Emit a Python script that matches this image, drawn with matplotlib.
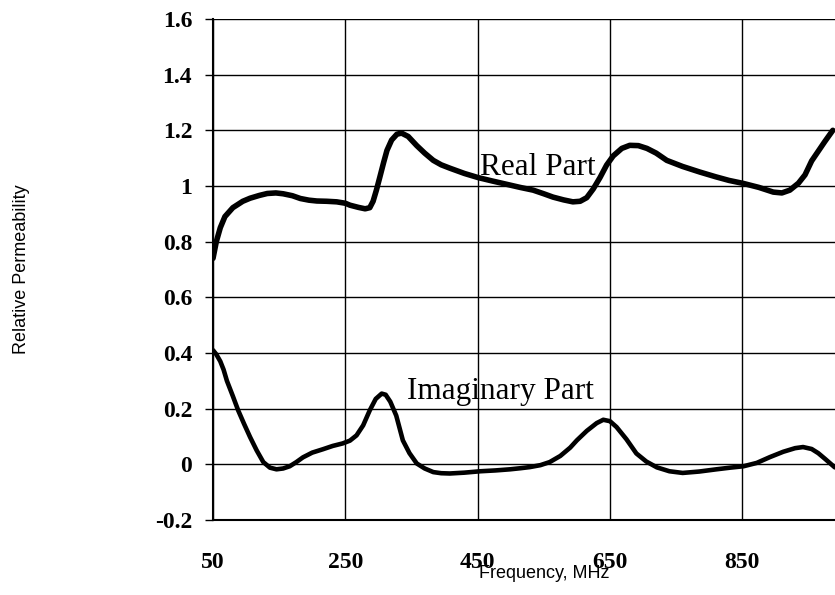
import matplotlib
matplotlib.use("Agg")
import matplotlib.pyplot as plt
from matplotlib.ticker import FuncFormatter

plt.rcParams['axes.unicode_minus'] = False

# frequency sweep (MHz) and permeability readings
freq_real = [50, 55, 61, 68, 80, 95, 106, 120, 132, 145, 156, 170, 182, 195, 207,
             222, 237, 250, 257, 270, 280, 287, 292, 297, 302, 308, 313, 320, 328,
             335, 345, 358, 370, 383, 395, 408, 430, 451, 472, 494, 514, 534, 550,
             564, 580, 594, 605, 615, 625, 635, 645, 655, 668, 680, 693, 706, 720,
             736, 760, 786, 810, 830, 852, 875, 897, 910, 922, 935, 945, 955, 965,
             975, 987]
mu_real = [0.74, 0.80, 0.85, 0.89, 0.922, 0.945, 0.956, 0.966, 0.973, 0.975, 0.972,
           0.965, 0.955, 0.949, 0.946, 0.945, 0.943, 0.938, 0.931, 0.923, 0.918,
           0.922, 0.945, 0.985, 1.03, 1.085, 1.128, 1.165, 1.186, 1.19, 1.178,
           1.145, 1.118, 1.092, 1.076, 1.064, 1.045, 1.03, 1.018, 1.006, 0.995,
           0.985, 0.972, 0.96, 0.95, 0.943, 0.945, 0.958, 0.99, 1.03, 1.075, 1.108,
           1.135, 1.146, 1.145, 1.135, 1.118, 1.092, 1.07, 1.05, 1.033, 1.02,
           1.009, 0.995, 0.978, 0.975, 0.985, 1.01, 1.04, 1.09, 1.125, 1.16, 1.2]

freq_imag = [50, 55, 61, 66, 71, 80, 88, 97, 106, 116, 126, 136, 146, 156, 166,
             176, 186, 200, 216, 231, 246, 257, 267, 277, 287, 296, 305, 311, 318,
             327, 337, 347, 358, 370, 383, 395, 408, 430, 454, 477, 499, 515, 529,
             545, 559, 575, 590, 600, 615, 630, 640, 650, 660, 675, 690, 705, 721,
             740, 760, 785, 811, 832, 852, 872, 892, 912, 930, 942, 955, 965, 975,
             990]
mu_imag = [0.41, 0.395, 0.37, 0.34, 0.30, 0.245, 0.194, 0.145, 0.098, 0.05, 0.008,
           -0.012, -0.018, -0.015, -0.007, 0.008, 0.025, 0.042, 0.054, 0.066,
           0.075, 0.085, 0.104, 0.14, 0.194, 0.235, 0.254, 0.25, 0.225, 0.175,
           0.086, 0.04, 0.003, -0.015, -0.028, -0.032, -0.033, -0.03, -0.025,
           -0.022, -0.018, -0.014, -0.01, -0.003, 0.008, 0.03, 0.06, 0.086, 0.12,
           0.148, 0.16, 0.155, 0.134, 0.09, 0.039, 0.01, -0.011, -0.025, -0.031,
           -0.026, -0.018, -0.012, -0.007, 0.005, 0.026, 0.045, 0.058, 0.062,
           0.055, 0.04, 0.02, -0.011]

x_ticks = [50, 250, 450, 650, 850]
y_ticks = [-0.2, 0, 0.2, 0.4, 0.6, 0.8, 1.0, 1.2, 1.4, 1.6]

fig = plt.figure(figsize=(8.35, 5.95), dpi=100)
# the plot runs on past the right edge of the figure, out to 1050 MHz
ax = fig.add_axes([0.2551, 0.1261, 0.7922, 0.8420])

ax.plot(freq_real, mu_real, color='black', lw=4.0, solid_capstyle='round')
ax.plot(freq_imag, mu_imag, color='black', lw=3.3, solid_capstyle='round')

ax.set_xlim(50, 1050)
ax.set_ylim(-0.2, 1.6)
ax.set_xticks(x_ticks)
ax.set_yticks(y_ticks)
ax.yaxis.set_major_formatter(FuncFormatter(lambda v, p: f"{round(v, 2):g}"))
ax.grid(True, color='black', lw=1.0)
ax.set_axisbelow(True)

for side in ('top', 'right'):
    ax.spines[side].set_visible(False)
for side in ('left', 'bottom'):
    ax.spines[side].set_linewidth(1.5)

ax.tick_params(axis='x', length=0, pad=23)
ax.tick_params(axis='y', length=6, width=1.0, pad=9)
for lab in ax.get_xticklabels() + ax.get_yticklabels():
    lab.set_family('Liberation Serif')
    lab.set_fontsize(17)
    lab.set_fontweight('bold')

ax.text(453, 1.068, "Real Part", family='Liberation Serif', fontsize=22.5,
        va='center', ha='left')
ax.text(343, 0.262, "Imaginary Part", family='Liberation Serif', fontsize=22.5,
        va='center', ha='left')

ax.set_xlabel("Frequency, MHz", family='Liberation Sans', fontsize=13,
              va='top')
ax.xaxis.set_label_coords(0.5, -0.089)
ax.set_ylabel("Relative Permeability", family='Liberation Sans', fontsize=13)
ax.yaxis.set_label_coords(-0.277, 0.5)

fig.savefig("out.png", dpi=100)
